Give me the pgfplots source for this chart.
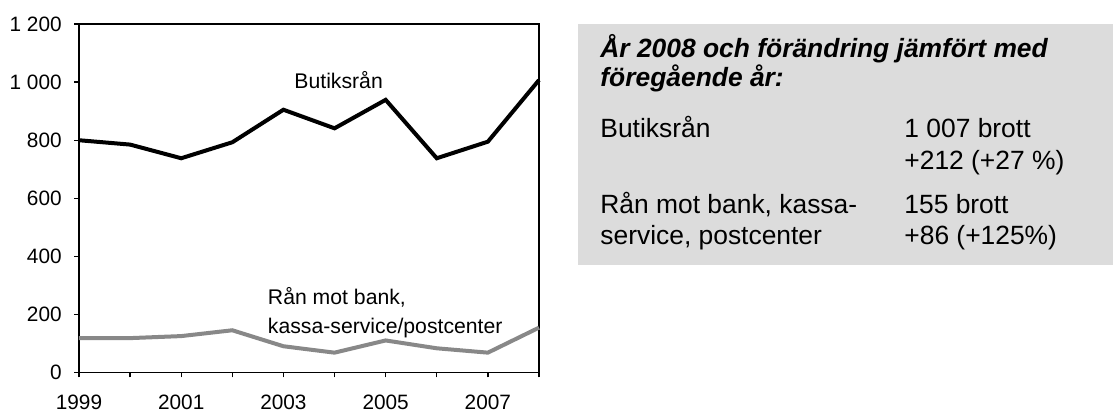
\documentclass[border=0pt]{standalone}
\usepackage{fontspec}
\setmainfont{Liberation Sans}
\usepackage{pgfplots}
\pgfplotsset{compat=1.18}
\definecolor{boxgray}{RGB}{220,220,220}
\definecolor{linegray}{RGB}{136,136,136}
\begin{document}
\begin{tikzpicture}
\useasboundingbox (0,0) rectangle (556.5bp,206.5bp);
\fill[boxgray] (289bp,74bp) rectangle (556.5bp,194.5bp);
\begin{axis}[
  at={(39.5bp,20.15bp)}, anchor=south west,
  scale only axis, width=230bp, height=174.35bp,
  xmin=1999, xmax=2008, ymin=0, ymax=1200,
  axis line style={line width=0.65bp},
  xtick={1999,2001,2003,2005,2007},
  minor xtick={2000,2002,2004,2006,2008},
  ytick={0,200,...,1200},
  xtick pos=left, ytick pos=left,
  tick align=outside,
  major tick length=2.35bp, minor tick length=2.35bp,
  tick style={line width=0.65bp, black},
  minor tick style={line width=0.65bp, black},
  /pgf/number format/assume math mode=true,
  xticklabel style={/pgf/number format/1000 sep={}, yshift=-5.2bp},
  yticklabel style={/pgf/number format/1000 sep={\ }, xshift=-2.8bp},
  ticklabel style={font=\fontsize{10.4bp}{12bp}\selectfont},
  clip=false,
]
\addplot[black, line width=2bp] coordinates {
 (1999,800) (2000,785) (2001,738) (2002,793) (2003,905) (2004,841) (2005,939) (2006,738) (2007,795) (2008,1007)};
\addplot[linegray, line width=2bp] coordinates {
 (1999,119) (2000,119) (2001,126) (2002,146) (2003,91) (2004,69) (2005,111) (2006,84) (2007,69) (2008,155)};
\node[anchor=base, font=\fontsize{10.6bp}{12bp}\selectfont, inner sep=0pt] at (axis cs:2004.08,977) {Butiksrån};
\node[anchor=base west, font=\fontsize{10.6bp}{12bp}\selectfont, inner sep=0pt] at (axis cs:2002.69,233) {Rån mot bank,};
\node[anchor=base west, font=\fontsize{10.6bp}{12bp}\selectfont, inner sep=0pt] at (axis cs:2002.69,136) {kassa-service/postcenter};
\end{axis}
\begin{scope}[every node/.style={inner sep=0pt, anchor=base west, font=\fontsize{13.2bp}{15bp}\selectfont}]
\node[align=left, font=\fontsize{13.2bp}{11.6bp}\selectfont\bfseries\itshape] at (300bp,163.25bp) {År 2008 och förändring jämfört med\\föregående år:};
\node at (300bp,137.5bp) {Butiksrån};
\node at (452bp,137.5bp) {1 007 brott};
\node at (452bp,121.75bp) {+212 (+27 \%)};
\node at (300bp,99.5bp) {Rån mot bank, kassa-};
\node at (452bp,99.5bp) {155 brott};
\node at (300bp,84bp) {service, postcenter};
\node at (452bp,84bp) {+86 (+125\%)};
\end{scope}
\end{tikzpicture}
\end{document}
